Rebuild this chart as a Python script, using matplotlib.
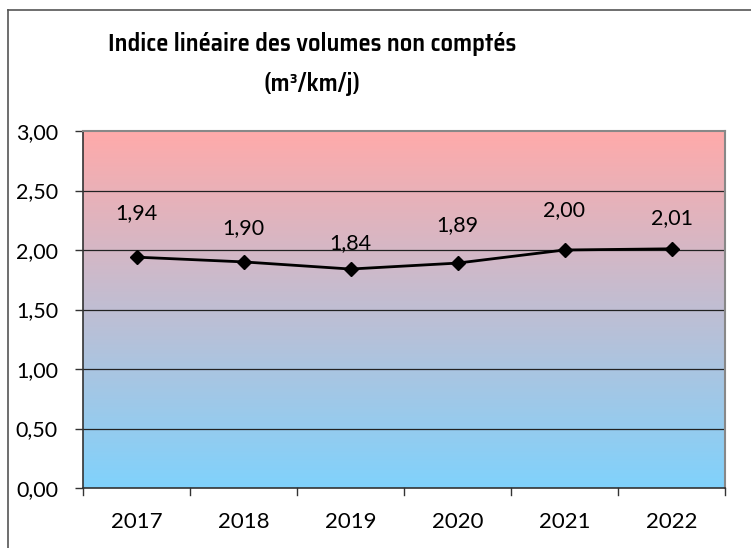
import matplotlib
matplotlib.use("Agg")
import matplotlib.pyplot as plt
import numpy as np
from matplotlib.colors import LinearSegmentedColormap
from matplotlib.lines import Line2D
from matplotlib import font_manager as fm
from matplotlib.textpath import TextPath

years = ["2017", "2018", "2019", "2020", "2021", "2022"]
values = [1.94, 1.90, 1.84, 1.89, 2.00, 2.01]
value_labels = ["1,94", "1,90", "1,84", "1,89", "2,00", "2,01"]
y_ticks = [0.0, 0.5, 1.0, 1.5, 2.0, 2.5, 3.0]
y_tick_labels = ["0,00", "0,50", "1,00", "1,50", "2,00", "2,50", "3,00"]
label_offsets_pt = [32, 24, 19, 27, 29, 22]
title_line1 = "Indice linéaire des volumes non comptés"
title_line2 = "(m³/km/j)"

plt.rcParams['font.family'] = ['Lato', 'DejaVu Sans']
PX = 0.72  # points per pixel at 100 dpi


def _w(f):
    w = f.weight
    if isinstance(w, str):
        w = fm.weight_dict.get(w, 400)
    return w


# look for a condensed bold face (closest to Calibri Bold); fallback Roboto bold
cands = []
for f in fm.fontManager.ttflist:
    nm = f.name.lower()
    fn = f.fname.lower()
    cond = (str(f.stretch) in ("condensed", "semi-condensed", "extra-condensed")
            or "narrow" in nm or "condensed" in nm
            or "condensed" in fn or "narrow" in fn)
    if cond and 600 <= _w(f) <= 750 and f.style == "normal" and "mono" not in nm:
        pr = 0
        if "liberation" in fn:
            pr = 3
        elif "noto" in fn and "semicondensed" not in fn and "extracondensed" not in fn:
            pr = 2
        elif "semicondensed" in fn:
            pr = 1
        cands.append((pr, f.fname))
if cands:
    cands.sort(reverse=True)
    title_prop = fm.FontProperties(fname=cands[0][1])
else:
    title_prop = fm.FontProperties(family=["Roboto", "DejaVu Sans"], weight="bold")

W, H = 751, 548
fig = plt.figure(figsize=(W / 100, H / 100), dpi=100)
left, right, top, bottom = 83, 725, 131, 488
ax = fig.add_axes([left / W, 1 - bottom / H, (right - left) / W, (bottom - top) / H])

n = len(years)
ax.set_xlim(-0.5, n - 0.5)
ax.set_ylim(0, 3)

# gradient background
cmap = LinearSegmentedColormap.from_list("g", ["#80D2FC", "#FFAAAA"])
grad = np.linspace(0, 1, 256).reshape(-1, 1)
ax.imshow(grad, cmap=cmap, aspect="auto", origin="lower",
          extent=(-0.5, n - 0.5, 0, 3), zorder=0)

for yv in y_ticks[1:-1]:
    ax.axhline(yv, color="#222222", lw=0.9, zorder=1)

x = np.arange(n)
ax.plot(x, values, color="black", lw=2, marker="D", ms=7, zorder=3)
for xi, v, lab, off in zip(x, values, value_labels, label_offsets_pt):
    ax.annotate(lab, (xi, v), xytext=(0, off), textcoords="offset points",
                ha="center", va="center", fontsize=15.5, color="black", zorder=4)

ax.set_yticks(y_ticks)
ax.set_yticklabels(y_tick_labels, fontsize=15.5)
ax.tick_params(axis="y", length=8 * PX, width=1, color="#333333", pad=17 * PX)

ax.set_xticks(x)
ax.set_xticklabels(years, fontsize=16)
ax.tick_params(axis="x", length=0, pad=24 * PX)
for b in np.arange(-0.5, n, 1.0):
    ax.plot([b, b], [0, -0.06], color="#333333", lw=1, clip_on=False, zorder=5)

for s in ["left", "bottom"]:
    ax.spines[s].set_color("#333333")
    ax.spines[s].set_linewidth(1.2)
for s in ["top", "right"]:
    ax.spines[s].set_color("#888888")
    ax.spines[s].set_linewidth(1.5)

# outer chart border (top and left visible)
fig.add_artist(Line2D([8 / W, 8 / W], [1 - 10 / H, 0], transform=fig.transFigure,
                      color="#555555", lw=1.2))
fig.add_artist(Line2D([8 / W, 1], [1 - 10 / H, 1 - 10 / H], transform=fig.transFigure,
                      color="#555555", lw=1.2))

# size the title: cap height about 17 px, width at most about 430 px
cap_frac = TextPath((0, 0), "I", size=100, prop=title_prop).get_extents().height / 100.0
size = 17 * PX / cap_frac
t1 = fig.text(312 / W, 1 - 44 / H, title_line1, ha="center", va="center",
              fontproperties=title_prop, fontsize=size)
t2 = fig.text(312 / W, 1 - 84 / H, title_line2, ha="center", va="center",
              fontproperties=title_prop, fontsize=size)
r = fig.canvas.get_renderer()
wpx = t1.get_window_extent(r).width
if wpx > 430:
    size = size * 430.0 / wpx
    t1.set_fontsize(size)
    t2.set_fontsize(size)

fig.savefig("out.png", dpi=100)
